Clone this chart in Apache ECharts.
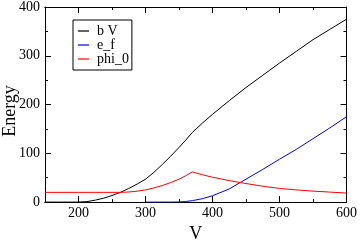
<!DOCTYPE html>
<html><head><meta charset="utf-8">
<script src="https://cdn.jsdelivr.net/npm/echarts@6/dist/echarts.min.js"></script>
<style>html,body{margin:0;padding:0;background:#fff}#c{width:360px;height:248px}</style>
</head><body><div id="c"></div>
<script>
const V      = [150,175,200,212.5,225,237.5,250,262.5,275,287.5,300,312.5,325,337.5,350,360,370,385,400,425,450,475,500,525,550,575,600];
const bV     = [0,0,0,1,4,8,13.5,20,28,37,47,61,77,94,112,127,143,162,180,208,235,260,285,309,333,354,375];
const e_f    = [null,null,null,null,null,null,null,null,null,null,0,0,0,0,0.3,1.2,3,7,13,27,47,67,88,108,130,152,175];
const phi_0  = [20,20,20,20,20,20,20,20,20.7,22.5,25,29,34,40,47,54,62,56,51,44,38,32.5,28,25,22.5,20.5,18.5];
const xMajor = [200,300,400,500,600];
const xMinor = [150,250,350,450,550];
const legendNames = ['b V','e_f','phi_0'];
const colors = ['#000000','#0000ff','#ff0000'];

const font = '"Liberation Serif", "Times New Roman", serif';
const pairs = a => V.map((v,i)=>[v,a[i]]).filter(p=>p[1]!==null);
const baseX = (pos, ticks, len, labels) => ({
  type:'value', min:150, max:600, position:pos, gridIndex:0,
  axisLine:{show:true, onZero:false, lineStyle:{color:'#000', width:1}},
  axisTick:{show:true, inside:true, length:len, customValues:ticks, lineStyle:{color:'#000'}},
  axisLabel:{show:labels, customValues:ticks, color:'#000', fontFamily:font, fontSize:14, margin:4},
  splitLine:{show:false}
});
const chart = echarts.init(document.getElementById('c'), null, {renderer:'canvas'});
chart.setOption({
  animation:false,
  grid:{left:45, right:13, top:6, bottom:30},
  legend:{
    orient:'vertical', left:73, top:20,
    padding:[4,3,4,5], itemGap:0, itemWidth:11, itemHeight:1.2,
    borderColor:'#000', borderWidth:1, backgroundColor:'#fff',
    textStyle:{fontFamily:font, fontSize:14, color:'#000', padding:[0,0,0,3], lineHeight:14},
    data:legendNames.map(n=>({name:n, icon:'rect'}))
  },
  graphic:[{type:'text', x:10, y:111, rotation:Math.PI/2,
    style:{text:'Energy', fontFamily:font, fontSize:18, fill:'#000', textAlign:'center', textVerticalAlign:'middle'}}],
  xAxis:[
    Object.assign(baseX('bottom', xMajor, 6, true), {name:'V', nameLocation:'middle', nameGap:19,
      nameTextStyle:{fontFamily:font, fontSize:18, color:'#000'}}),
    baseX('bottom', xMinor, 3, false),
    baseX('top', xMajor, 6, false),
    baseX('top', xMinor, 3, false)
  ],
  yAxis:[
    {type:'value', min:0, max:400, interval:100, position:'left',
     axisLine:{show:true, lineStyle:{color:'#000'}},
     axisTick:{show:true, inside:true, length:6, lineStyle:{color:'#000'}},
     minorTick:{show:true, splitNumber:2, length:3, lineStyle:{color:'#000'}},
     axisLabel:{color:'#000', fontFamily:font, fontSize:14, margin:5},
     splitLine:{show:false}},
    {type:'value', min:0, max:400, interval:100, position:'right',
     axisLine:{show:true, lineStyle:{color:'#000'}},
     axisTick:{show:true, inside:true, length:6, lineStyle:{color:'#000'}},
     minorTick:{show:true, splitNumber:2, length:3, lineStyle:{color:'#000'}},
     axisLabel:{show:false}, splitLine:{show:false}}
  ],
  series:[bV, e_f, phi_0].map((arr,i)=>({
    name:legendNames[i], type:'line', data:pairs(arr), symbol:'none',
    color:colors[i], lineStyle:{width:1, color:colors[i]}
  }))
});
</script></body></html>
